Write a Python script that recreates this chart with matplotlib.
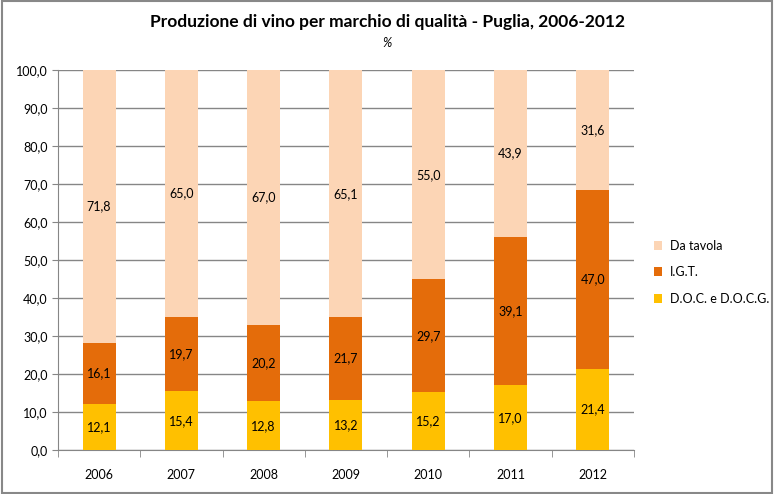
import numpy as np
import matplotlib.pyplot as plt
from matplotlib.patches import Rectangle

plt.rcParams['font.family'] = ['Lato', 'DejaVu Sans']

anni = ['2006', '2007', '2008', '2009', '2010', '2011', '2012']
doc = [12.1, 15.4, 12.8, 13.2, 15.2, 17.0, 21.4]
igt = [16.1, 19.7, 20.2, 21.7, 29.7, 39.1, 47.0]
tavola = [71.8, 65.0, 67.0, 65.1, 55.0, 43.9, 31.6]

col_doc = '#FFC000'
col_igt = '#E46C0A'
col_tav = '#FCD5B5'

fig = plt.figure(figsize=(7.74, 4.94), dpi=100)
ax = fig.add_axes([0.0749, 0.0891, 0.744, 0.769])
fig.patches.append(Rectangle((0.002, 0.002), 0.996, 0.996, transform=fig.transFigure,
                             fill=False, edgecolor='#888888', lw=1.5))

x = np.arange(len(anni))
w = 0.4
b1 = ax.bar(x, doc, w, color=col_doc, label='D.O.C. e D.O.C.G.', zorder=3)
b2 = ax.bar(x, igt, w, bottom=doc, color=col_igt, label='I.G.T.', zorder=3)
bot3 = np.array(doc) + np.array(igt)
b3 = ax.bar(x, tavola, w, bottom=bot3, color=col_tav, label='Da tavola', zorder=3)

def fmt(v):
    return f'{v:.1f}'.replace('.', ',')

for bars, vals in [(b1, doc), (b2, igt), (b3, tavola)]:
    for r, v in zip(bars, vals):
        ax.text(r.get_x() + r.get_width() / 2, r.get_y() + r.get_height() / 2, fmt(v),
                ha='center', va='center', fontsize=9, color='black', zorder=4)

ax.set_xlim(-0.5, len(anni) - 0.5)
ax.set_ylim(0, 100)
ax.set_yticks(np.arange(0, 101, 10))
ax.set_yticklabels([fmt(v) for v in np.arange(0, 101, 10)], fontsize=9)
ax.set_xticks(x)
ax.set_xticklabels(anni, fontsize=9)
ax.set_xticks(np.arange(-0.5, len(anni)), minor=True)
ax.tick_params(axis='x', which='major', length=0, pad=14)
ax.tick_params(axis='x', which='minor', length=5, color='#868686')
ax.tick_params(axis='y', length=4, color='#868686')
ax.yaxis.grid(True, color='#868686', lw=1, zorder=0)
for s in ['top', 'right']:
    ax.spines[s].set_visible(False)
for s in ['left', 'bottom']:
    ax.spines[s].set_color('#868686')

h, l = ax.get_legend_handles_labels()
ax.legend(h[::-1], l[::-1], loc='center left', bbox_to_anchor=(1.015, 0.468), frameon=False,
          fontsize=9, handlelength=0.7, handleheight=0.7, labelspacing=1.15, handletextpad=0.6)

fig.text(0.5, 0.955, 'Produzione di vino per marchio di qualità - Puglia, 2006-2012',
         ha='center', va='center', fontsize=12.5, fontweight='bold')
fig.text(0.5, 0.912, '%', ha='center', va='center', fontsize=9, style='italic')

fig.savefig('out.png', dpi=100)
